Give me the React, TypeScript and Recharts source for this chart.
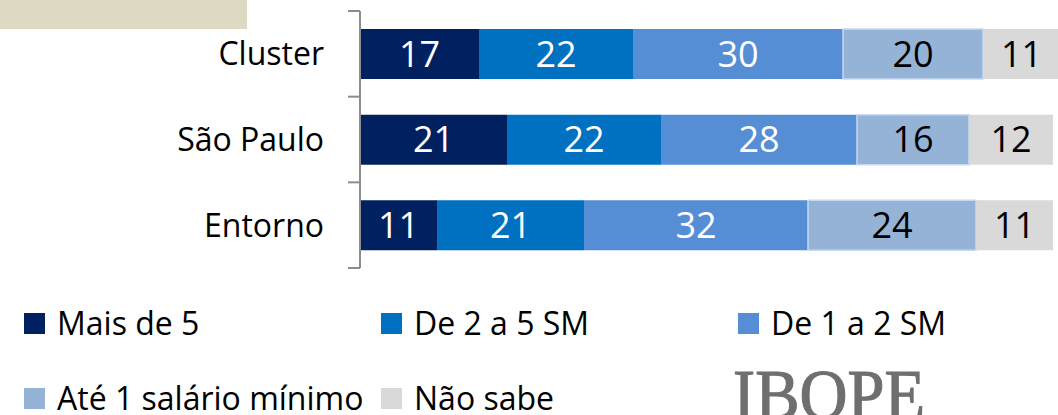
import React from 'react';
import { BarChart, Bar, XAxis, YAxis, Legend, LabelList } from 'recharts';

const categories = ['Cluster', 'São Paulo', 'Entorno'];

const maisDe5 = [17, 21, 11];
const de2a5 = [22, 22, 21];
const de1a2 = [30, 28, 32];
const ate1 = [20, 16, 24];
const naoSabe = [11, 12, 11];

const seriesKeys = ['maisDe5', 'de2a5', 'de1a2', 'ate1', 'naoSabe'];
const seriesNames = ['Mais de 5', 'De 2 a 5 SM', 'De 1 a 2 SM', 'Até 1 salário mínimo', 'Não sabe'];
const seriesColors = ['#002060', '#0070C0', '#558ED5', '#95B3D7', '#D9D9D9'];
const labelColors = ['#ffffff', '#ffffff', '#ffffff', '#000000', '#000000'];

const data = categories.map((name, i) => ({
  name,
  maisDe5: maisDe5[i],
  de2a5: de2a5[i],
  de1a2: de1a2[i],
  ate1: ate1[i],
  naoSabe: naoSabe[i],
}));

const CHART_W = 1060;
const CHART_H = 415;
const MARGIN = { top: 11, right: 0, bottom: 147, left: 0 };
const AXIS_W = 360;
const TICK_SIZE = 12;
const TICK_MARGIN = 24;
const AXIS_COLOR = '#8c8c8c';
const FONT = '"Open Sans", sans-serif';

const bandHalf = (CHART_H - MARGIN.top - MARGIN.bottom) / categories.length / 2;

const CategoryTick = (props: any) => {
  const { x, y, payload, index } = props;
  const lx1 = x + TICK_MARGIN;
  const lx2 = lx1 + TICK_SIZE;
  return (
    <g>
      <line x1={lx1} x2={lx2} y1={y - bandHalf} y2={y - bandHalf} stroke={AXIS_COLOR} strokeWidth={2} />
      {index === categories.length - 1 && (
        <line x1={lx1} x2={lx2} y1={y + bandHalf} y2={y + bandHalf} stroke={AXIS_COLOR} strokeWidth={2} />
      )}
      <text x={x} y={y} dy="0.36em" textAnchor="end" fontSize={32} fill="#000">
        {payload.value}
      </text>
    </g>
  );
};

const renderLegend = (props: any) => {
  const items = [...(props.payload || [])].sort(
    (a: any, b: any) => seriesNames.indexOf(a.value) - seriesNames.indexOf(b.value)
  );
  return (
    <svg width={1058} height={115} style={{ overflow: 'visible' }}>
      {items.map((item: any, i: number) => {
        const cx = 24 + (i % 3) * 357;
        const base = 35 + Math.floor(i / 3) * 75;
        return (
          <g key={item.value}>
            <rect x={cx} y={base - 22} width={21} height={21} fill={item.color} />
            <text x={cx + 33} y={base} fontSize={32} fill="#000" fontFamily={FONT}>
              {item.value}
            </text>
          </g>
        );
      })}
    </svg>
  );
};

export default function App() {
  return (
    <div style={{ position: 'fixed', left: 0, top: 0, width: 1058, height: 415, overflow: 'hidden', background: '#fff', fontFamily: FONT }}>
      <div style={{ position: 'absolute', left: 0, top: 0, width: 247, height: 29, background: '#DDD9C3' }} />
      <BarChart width={CHART_W} height={CHART_H} data={data} layout="vertical" margin={MARGIN} barCategoryGap={0}>
        <XAxis type="number" domain={[0, 100]} hide allowDataOverflow />
        <YAxis
          type="category"
          dataKey="name"
          width={AXIS_W}
          axisLine={{ stroke: AXIS_COLOR, strokeWidth: 2 }}
          tickLine={false}
          tickSize={TICK_SIZE}
          tickMargin={TICK_MARGIN}
          tick={<CategoryTick />}
          interval={0}
        />
        <Legend
          layout="horizontal"
          verticalAlign="middle"
          align="center"
          content={renderLegend}
          wrapperStyle={{ top: 300, left: 0, width: 1058, height: 115 }}
        />
        {seriesKeys.map((key, i) => (
          <Bar
            key={key}
            dataKey={key}
            name={seriesNames[i]}
            stackId="a"
            fill={seriesColors[i]}
            stroke={i === 3 ? '#c6d9f1' : undefined}
            strokeWidth={i === 3 ? 1.5 : 0}
            barSize={50}
            isAnimationActive={false}
          >
            <LabelList dataKey={key} position="center" fill={labelColors[i]} fontSize={36} fontFamily={FONT} />
          </Bar>
        ))}
      </BarChart>
      <svg style={{ position: 'absolute', left: 0, top: 0 }} width={1058} height={415}>
        <text
          x={733}
          y={419}
          fontSize={72}
          textLength={192}
          lengthAdjust="spacingAndGlyphs"
          fill="#6f6f6f"
          stroke="#6f6f6f"
          strokeWidth={1.2}
          fontFamily='"Liberation Serif", serif'
        >
          IBOPE
        </text>
      </svg>
    </div>
  );
}
